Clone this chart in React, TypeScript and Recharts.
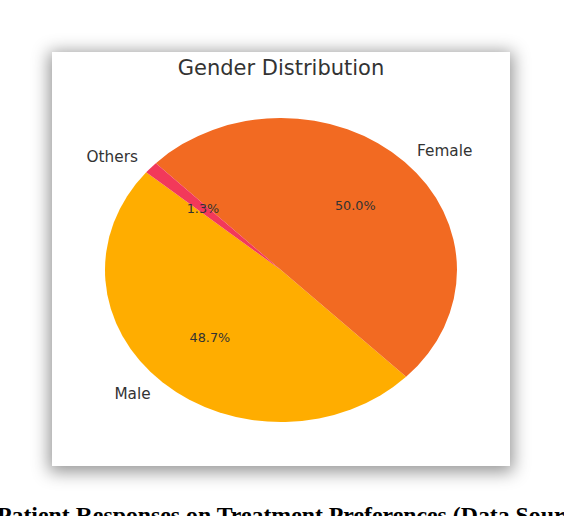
import React from 'react';
import { PieChart, Pie, Cell } from 'recharts';

// values (matplotlib pie, startangle 140)
const genders = ['Male', 'Female', 'Others'];
const shares = [48.7, 50.0, 1.3];
const sliceColors = ['#ffad00', '#f26a22', '#f2395a'];

const data = genders.map((name, i) => ({ name, value: shares[i] }));

// the original axes were not square, so the pie is an ellipse
const STRETCH = 176 / 152;
const BOX_W = 458;
const BOX_H = 414;
const RAD = Math.PI / 180;

const renderLabel = (props: any) => {
  const { cx, cy, midAngle, outerRadius, percent, name } = props;
  const cos = Math.cos(-midAngle * RAD);
  const sin = Math.sin(-midAngle * RAD);
  const nx = cx + outerRadius * 1.1 * cos;
  const ny = cy + outerRadius * 1.1 * sin;
  const px = cx + outerRadius * 0.6 * cos;
  const py = cy + outerRadius * 0.6 * sin;
  const unstretch = (x: number) => `matrix(${1 / STRETCH} 0 0 1 ${x - x / STRETCH} 0)`;
  return (
    <g>
      <text
        x={nx}
        y={ny}
        transform={unstretch(nx)}
        textAnchor={cos > 0 ? 'start' : 'end'}
        dominantBaseline="central"
        fill="#333"
        fontSize={15.3}
        fontFamily="DejaVu Sans"
      >
        {name}
      </text>
      <text
        x={px}
        y={py}
        transform={unstretch(px)}
        textAnchor="middle"
        dominantBaseline="central"
        fill="#333"
        fontSize={12.8}
        fontFamily="DejaVu Sans"
      >
        {`${(percent * 100).toFixed(1)}%`}
      </text>
    </g>
  );
};

export default function App() {
  return (
    <div style={{ position: 'absolute', left: 0, top: 0, width: 564, height: 516, overflow: 'hidden', background: '#fff' }}>
      <div
        style={{
          position: 'absolute',
          left: 52,
          top: 52,
          width: BOX_W,
          height: BOX_H,
          background: '#fff',
          boxShadow: '0 3px 16px 3px rgba(0,0,0,0.42)',
        }}
      >
        <div style={{ position: 'absolute', left: 0, top: 0, transform: `scaleX(${STRETCH})`, transformOrigin: '0 0' }}>
          <PieChart width={BOX_W / STRETCH} height={BOX_H} margin={{ top: 0, right: 0, bottom: 0, left: 0 }}>
            <Pie
              data={data}
              dataKey="value"
              nameKey="name"
              cx={229 / STRETCH}
              cy={218}
              outerRadius={152}
              startAngle={140}
              endAngle={500}
              stroke="none"
              label={renderLabel}
              labelLine={false}
              isAnimationActive={false}
            >
              {data.map((entry, index) => (
                <Cell key={`cell-${index}`} fill={sliceColors[index % sliceColors.length]} />
              ))}
            </Pie>
          </PieChart>
        </div>
        <svg width={BOX_W} height={40} style={{ position: 'absolute', left: 0, top: 0 }}>
          <text x={229} y={23} textAnchor="middle" fill="#333" fontSize={21} fontFamily="DejaVu Sans">
            Gender Distribution
          </text>
        </svg>
      </div>
      <div
        style={{
          position: 'absolute',
          left: -3,
          top: 504,
          whiteSpace: 'nowrap',
          fontFamily: '"Liberation Serif", serif',
          fontWeight: 'bold',
          fontSize: 23.8,
          lineHeight: '23.8px',
          color: '#000',
        }}
      >
        Patient Responses on Treatment Preferences (Data Source: Survey)
      </div>
    </div>
  );
}
